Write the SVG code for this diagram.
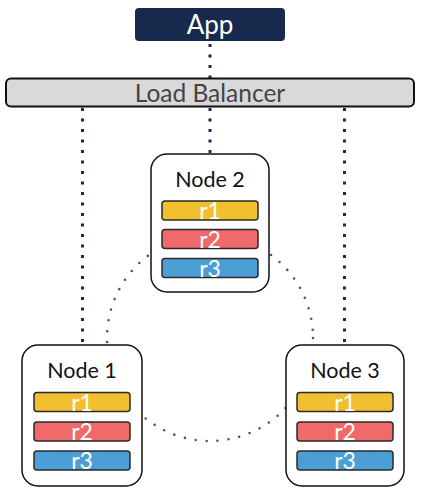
<svg xmlns="http://www.w3.org/2000/svg" width="423" height="496" viewBox="0 0 423 496">
<style>
.lbl{font-family:Lato,"Noto Sans",sans-serif;text-anchor:middle}
.node{fill:#fff;stroke:#111;stroke-width:1.5}
.bar{stroke:#2a2a2a;stroke-width:1.5}
.bt{font-family:Lato,"Noto Sans",sans-serif;text-anchor:middle;fill:#fff;font-size:23px}
.nt{font-family:Lato,"Noto Sans",sans-serif;text-anchor:middle;fill:#111;font-size:21.5px}
.v{stroke:#1b2a4a;stroke-width:3;stroke-dasharray:3 7.5;fill:none}
.ring{stroke:#555;stroke-width:2.6;stroke-linecap:round;stroke-dasharray:0 11;fill:none}
</style>
<g id="connectors">
<circle class="ring" cx="210" cy="338" r="103"/>
<line class="v" x1="210" y1="44" x2="210" y2="78"/>
<line class="v" x1="82.5" y1="108" x2="82.5" y2="345"/>
<line class="v" x1="210" y1="108" x2="210" y2="154"/>
<line class="v" x1="344.5" y1="108" x2="344.5" y2="345"/>
</g>
<g id="app">
<rect x="135" y="8" width="150" height="33" rx="4" fill="#172a4e"/>
<text class="lbl" x="210" y="34" font-size="26" fill="#fff">App</text>
</g>
<g id="lb">
<rect x="6" y="78.5" width="408" height="28" rx="5" fill="#d9d9d9" stroke="#111" stroke-width="2"/>
<text class="lbl" x="210" y="101.5" font-size="24.5" fill="#444">Load Balancer</text>
</g>
<g id="node2">
<rect class="node" x="151" y="154" width="118" height="138" rx="16"/>
<text class="nt" x="210" y="187">Node 2</text>
<rect class="bar" x="162" y="201" width="96" height="19" rx="3" fill="#f2bf30"/>
<text class="bt" x="210" y="219">r1</text>
<rect class="bar" x="162" y="229.5" width="96" height="19" rx="3" fill="#f0696b"/>
<text class="bt" x="210" y="247.5">r2</text>
<rect class="bar" x="162" y="258.5" width="96" height="19" rx="3" fill="#4b9fd5"/>
<text class="bt" x="210" y="276.5">r3</text>
</g>
<g id="node1">
<rect class="node" x="22" y="345" width="120" height="141" rx="16"/>
<text class="nt" x="82" y="378">Node 1</text>
<rect class="bar" x="34" y="392.5" width="96" height="19" rx="3" fill="#f2bf30"/>
<text class="bt" x="82" y="410.5">r1</text>
<rect class="bar" x="34" y="422" width="96" height="19" rx="3" fill="#f0696b"/>
<text class="bt" x="82" y="440">r2</text>
<rect class="bar" x="34" y="451" width="96" height="19" rx="3" fill="#4b9fd5"/>
<text class="bt" x="82" y="469">r3</text>
</g>
<g id="node3">
<rect class="node" x="286" y="345" width="118" height="141" rx="16"/>
<text class="nt" x="345" y="378">Node 3</text>
<rect class="bar" x="297" y="392.5" width="96" height="19" rx="3" fill="#f2bf30"/>
<text class="bt" x="345" y="410.5">r1</text>
<rect class="bar" x="297" y="422" width="96" height="19" rx="3" fill="#f0696b"/>
<text class="bt" x="345" y="440">r2</text>
<rect class="bar" x="297" y="451" width="96" height="19" rx="3" fill="#4b9fd5"/>
<text class="bt" x="345" y="469">r3</text>
</g>
</svg>
